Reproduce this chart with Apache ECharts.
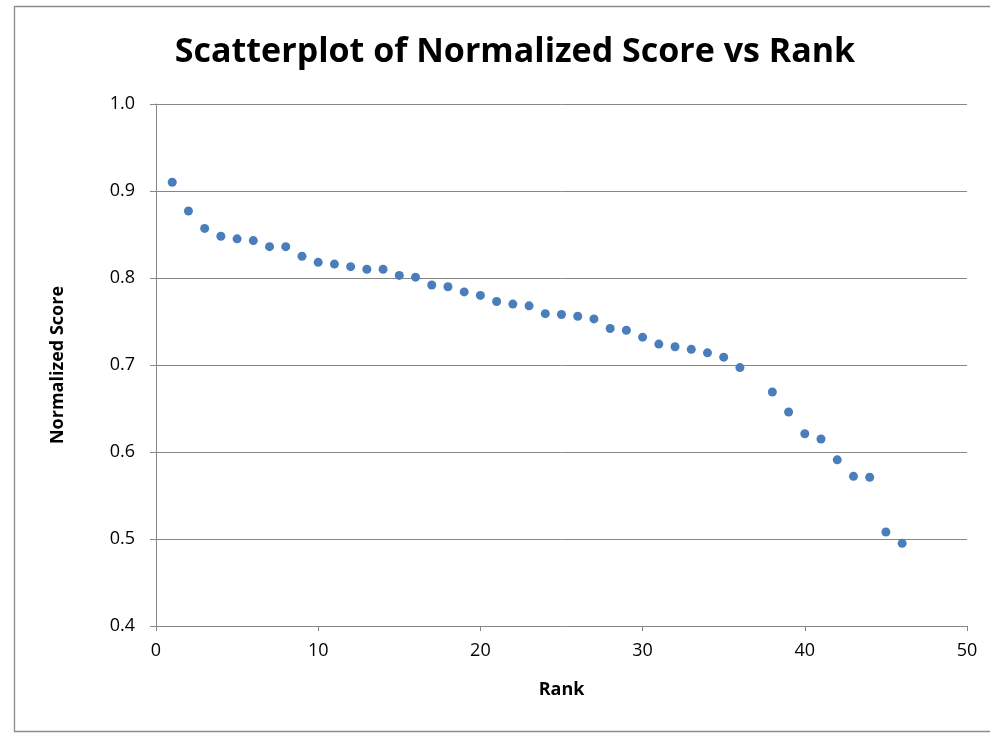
<!DOCTYPE html>
<html>
<head>
<meta charset="utf-8">
<script src="https://cdn.jsdelivr.net/npm/echarts@6/dist/echarts.min.js"></script>
<style>
  html, body { margin: 0; padding: 0; background: #fff; }
  #chart { width: 990px; height: 733px; }
</style>
</head>
<body>
<div id="chart"></div>
<script>
// rank 37 has no point in the source
const ranks = [1, 2, 3, 4, 5, 6, 7, 8, 9, 10, 11, 12, 13, 14, 15, 16, 17, 18, 19, 20,
  21, 22, 23, 24, 25, 26, 27, 28, 29, 30, 31, 32, 33, 34, 35, 36, 38, 39, 40, 41,
  42, 43, 44, 45, 46];
const scores = [0.910, 0.877, 0.857, 0.848, 0.845, 0.843, 0.836, 0.836, 0.825, 0.818,
  0.816, 0.813, 0.810, 0.810, 0.803, 0.801, 0.792, 0.790, 0.784, 0.780,
  0.773, 0.770, 0.768, 0.759, 0.758, 0.756, 0.753, 0.742, 0.740, 0.732,
  0.724, 0.721, 0.718, 0.714, 0.709, 0.697, 0.669, 0.646, 0.621, 0.615,
  0.591, 0.572, 0.571, 0.508, 0.495];
const titleText = "Scatterplot of Normalized Score vs Rank";
const xName = "Rank";
const yName = "Normalized Score";

const gray = "#868686";
const font = "'Open Sans', 'DejaVu Sans', sans-serif";

const chart = echarts.init(document.getElementById("chart"));

const points = ranks.map((r, i) => [r, scores[i]]);

chart.setOption({
  backgroundColor: "#fff",
  animation: false,
  title: {
    text: titleText,
    left: 510,
    top: 30,
    textAlign: "center",
    textStyle: {
      fontFamily: font,
      fontWeight: "bold",
      fontSize: 34,
      color: "#000"
    }
  },
  grid: {
    left: 156,
    right: 23,
    top: 104,
    bottom: 107
  },
  xAxis: {
    type: "value",
    min: 0,
    max: 50,
    interval: 10,
    name: xName,
    nameLocation: "middle",
    nameGap: 55,
    nameTextStyle: { fontFamily: font, fontWeight: "bold", fontSize: 18, color: "#000" },
    axisLine: { show: true, lineStyle: { color: gray, width: 1 } },
    axisTick: { show: true, length: 5, lineStyle: { color: gray } },
    axisLabel: { margin: 16, fontFamily: font, fontSize: 18, color: "#000" },
    splitLine: { show: false }
  },
  yAxis: {
    type: "value",
    min: 0.4,
    max: 1.0,
    interval: 0.1,
    name: yName,
    nameLocation: "middle",
    nameGap: 89,
    nameTextStyle: { fontFamily: font, fontWeight: "bold", fontSize: 18, color: "#000" },
    axisLine: { show: true, lineStyle: { color: gray, width: 1 } },
    axisTick: { show: true, length: 6, lineStyle: { color: gray } },
    axisLabel: {
      margin: 21,
      fontFamily: font,
      fontSize: 18,
      color: "#000",
      formatter: v => v.toFixed(1)
    },
    splitLine: { show: true, lineStyle: { color: gray, width: 1 } }
  },
  graphic: [{
    type: "rect",
    shape: { x: 14.5, y: 6.5, width: 990, height: 725 },
    style: { fill: "none", stroke: "#8c8c8c", lineWidth: 1.3 },
    silent: true,
    z: -1
  }],
  series: [{
    type: "scatter",
    data: points,
    symbol: "circle",
    symbolSize: 9,
    itemStyle: { color: "#4A7EBB", opacity: 1 }
  }]
});
</script>
</body>
</html>
